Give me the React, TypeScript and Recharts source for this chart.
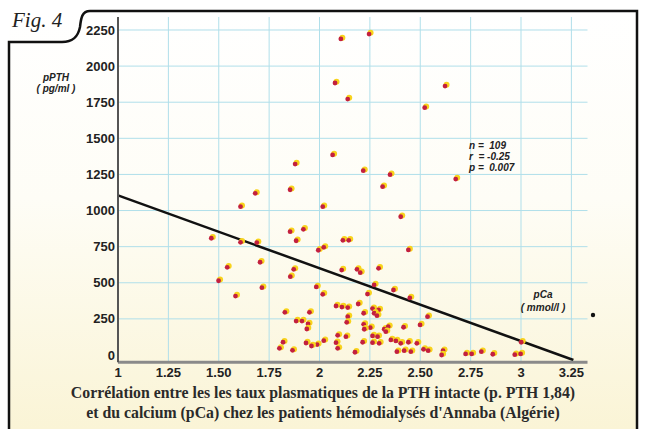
import React from 'react';
import { ScatterChart, Scatter, XAxis, YAxis, CartesianGrid, ReferenceLine } from 'recharts';

// pCa (mmol/l) and pPTH (pg/ml)
const pCa = [
  2.106, 2.246, 2.077, 2.14, 2.623, 2.522, 2.065, 1.879, 2.217, 2.35,
  2.313, 2.676, 1.681, 1.854, 1.608, 2.016, 2.403, 1.463, 1.608, 1.689,
  1.854, 1.92, 1.884, 1.994, 2.021, 2.116, 2.145, 2.441, 1.705, 1.542,
  1.872, 1.855, 2.11, 2.186, 2.202, 2.293, 2.271, 2.367, 2.238, 2.448,
  1.499, 1.714, 1.984, 2.016, 1.583, 2.082, 2.111, 2.14, 2.192, 2.263,
  2.293, 1.828, 1.95, 2.219, 2.271, 2.285, 2.14, 2.536, 2.135, 1.884,
  1.913, 1.943, 1.937, 2.219, 2.252, 2.222, 2.321, 2.341, 2.329, 2.417,
  2.499, 2.09, 2.131, 2.263, 2.288, 1.819, 1.933, 1.988, 1.96, 2.021,
  2.082, 2.214, 2.263, 2.296, 2.354, 2.379, 2.403, 2.441, 2.483, 1.801,
  1.866, 2.09, 2.176, 2.384, 2.42, 2.453, 2.516, 2.539, 2.613, 2.606,
  2.725, 2.755, 2.803, 2.86, 2.969, 2.998, 3.001,
];
const pPTH = [
  2188, 2222, 1883, 1772, 1862, 1712, 1385, 1322, 1276, 1248,
  1165, 1218, 1119, 1144, 1027, 1027, 957, 808, 780, 778,
  854, 870, 791, 725, 745, 794, 794, 727, 642, 607,
  593, 542, 588, 593, 570, 600, 485, 450, 422, 395,
  514, 466, 471, 420, 408, 339, 332, 328, 353, 321,
  312, 295, 295, 289, 289, 272, 265, 265, 226, 235,
  235, 215, 180, 212, 189, 178, 178, 196, 161, 192,
  208, 136, 127, 132, 127, 88, 83, 72, 62, 99,
  85, 88, 85, 81, 104, 97, 81, 88, 81, 46,
  32, 46, 19, 23, 30, 23, 39, 30, 30, 0,
  7, 7, 23, 5, 2, 7, 88,
];

const xTicks = [1, 1.25, 1.5, 1.75, 2, 2.25, 2.5, 2.75, 3, 3.25];
const xTickLabels = ['1', '1.25', '1.50', '1.75', '2', '2.25', '2.50', '2.75', '3', '3.25'];
const yTicks = [0, 250, 500, 750, 1000, 1250, 1500, 1750, 2000, 2250];

// regression line ends
const regStart = { x: 1, y: 1105 };
const regEnd = { x: 3.26, y: -35 };

const points = pCa.map((x, i) => ({ x, y: pPTH[i] }));

const Dot = (props: any) => {
  const { cx, cy } = props;
  return (
    <g>
      <circle cx={cx + 1.5} cy={cy - 1.2} r={3} fill="#f8d31c" />
      <circle cx={cx} cy={cy} r={2.4} fill="#c3203f" />
    </g>
  );
};

const tickFont = { fontFamily: 'Liberation Sans, Arial, sans-serif', fontSize: 13, fontWeight: 'bold', fill: '#222' };
const smallFont: React.CSSProperties = { fontFamily: 'Liberation Sans, Arial, sans-serif', fontSize: 10, fontWeight: 'bold', fontStyle: 'italic' };
const captionFont: React.CSSProperties = { fontFamily: 'Liberation Serif, Times New Roman, serif', fontWeight: 'bold', fontSize: 15.8, fill: '#2a2a2a' };

export default function App() {
  return (
    <div style={{ position: 'absolute', left: 0, top: 0, width: 645, height: 429, background: '#fff' }}>
      <svg width={645} height={429} style={{ position: 'absolute', left: 0, top: 0 }}>
        <defs>
          <linearGradient id="bg" x1="0" y1="0" x2="0" y2="1">
            <stop offset="0" stopColor="#ffffff" />
            <stop offset="0.45" stopColor="#fefdf6" />
            <stop offset="1" stopColor="#faf4d6" />
          </linearGradient>
        </defs>
        <rect x={9} y={11} width={628} height={418} fill="url(#bg)" />
      </svg>
      <div style={{ position: 'absolute', left: 0, top: 0 }}>
        <ScatterChart width={645} height={429} margin={{ top: 17, right: 57.5, bottom: 46.8, left: 58 }}>
          <CartesianGrid
            stroke="#b0dfea"
            strokeWidth={1}
            horizontalValues={yTicks.slice(1)}
            verticalValues={xTicks.slice(1)}
          />
          <XAxis
            type="number"
            dataKey="x"
            domain={[1, 3.33]}
            ticks={xTicks}
            allowDataOverflow
            tickFormatter={(v: number) => xTickLabels[xTicks.indexOf(v)] ?? String(v)}
            tickLine={false}
            tickSize={3}
            tickMargin={3}
            height={20}
            axisLine={{ stroke: '#8a8a8a', strokeWidth: 3 }}
            tick={tickFont}
          />
          <YAxis
            type="number"
            dataKey="y"
            domain={[-50, 2340]}
            ticks={yTicks}
            allowDataOverflow
            tickLine={false}
            tickSize={3}
            tickMargin={0}
            width={60}
            axisLine={{ stroke: '#555', strokeWidth: 2 }}
            tick={tickFont}
          />
          <ReferenceLine segment={[regStart, regEnd]} stroke="#111" strokeWidth={2.5} ifOverflow="visible" />
          <Scatter data={points} shape={Dot} isAnimationActive={false} />
        </ScatterChart>
      </div>
      <svg width={645} height={429} style={{ position: 'absolute', left: 0, top: 0, pointerEvents: 'none' }}>
        <path
          d="M9,429 V42 H62 C73,42 78,37 80,27 C81,18 82,11 90,11 H637 V429"
          fill="none"
          stroke="#111"
          strokeWidth={2.5}
        />
        <text x={12} y={27} style={{ fontFamily: 'Liberation Serif, Times New Roman, serif', fontStyle: 'italic', fontSize: 21, fill: '#222' }}>
          Fig. 4
        </text>
        <text x={56} y={81} textAnchor="middle" style={smallFont} fill="#222">pPTH</text>
        <text x={56} y={92} textAnchor="middle" style={smallFont} fill="#222">( pg/ml )</text>
        <text x={543} y={298} textAnchor="middle" style={smallFont} fill="#222">pCa</text>
        <text x={543} y={311} textAnchor="middle" style={smallFont} fill="#222">( mmol/l )</text>
        <text x={469} y={149} style={smallFont} fill="#222" xmlSpace="preserve">n =  109</text>
        <text x={469} y={160} style={smallFont} fill="#222" xmlSpace="preserve">r  = -0.25</text>
        <text x={469} y={171} style={smallFont} fill="#222" xmlSpace="preserve">p =  0.007</text>
        <circle cx={593} cy={315} r={2.2} fill="#111" />
        <text x={323} y={398} textAnchor="middle" style={captionFont}>
          Corrélation entre les les taux plasmatiques de la PTH intacte (p. PTH 1,84)
        </text>
        <text x={323} y={418} textAnchor="middle" style={captionFont}>
          et du calcium (pCa) chez les patients hémodialysés d'Annaba (Algérie)
        </text>
      </svg>
    </div>
  );
}
